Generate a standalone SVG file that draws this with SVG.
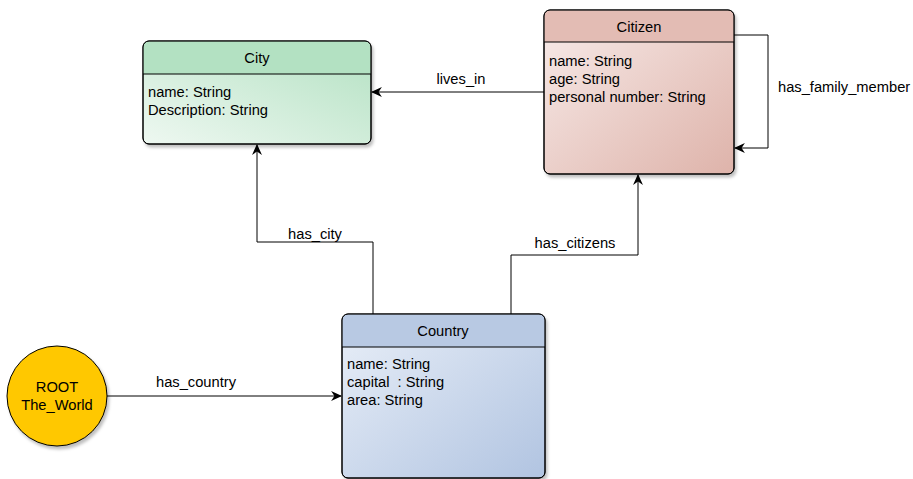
<svg xmlns="http://www.w3.org/2000/svg" width="913" height="479" viewBox="0 0 913 479">
  <style>
    text { font-family: "Liberation Sans", Arial, sans-serif; font-size: 14.7px; fill: #000; white-space: pre; }
    .title { text-anchor: middle; }
    .lbl { text-anchor: middle; }
    .box { stroke: #000; stroke-width: 1; }
    .sep { stroke: #000; stroke-width: 1; }
    .edge { fill: none; stroke: #000; stroke-width: 1; }
  </style>
  <defs>
    <marker id="arrow" viewBox="0 0 10 10" refX="9" refY="5" markerWidth="11" markerHeight="11" markerUnits="userSpaceOnUse" orient="auto">
      <path d="M0,0.5 L10,5 L0,9.5 L3,5 Z" fill="#000"/>
    </marker>
    <filter id="shadow" x="-10%" y="-10%" width="130%" height="130%">
      <feDropShadow dx="2" dy="3" stdDeviation="1.5" flood-color="#000" flood-opacity="0.25"/>
    </filter>
    <linearGradient id="gCity" x1="0" y1="1" x2="1" y2="0">
      <stop offset="0" stop-color="#eef8f1"/>
      <stop offset="1" stop-color="#b3e1c2"/>
    </linearGradient>
    <linearGradient id="gCitizen" x1="0" y1="0" x2="1" y2="1">
      <stop offset="0" stop-color="#f8ecea"/>
      <stop offset="1" stop-color="#deb3aa"/>
    </linearGradient>
    <linearGradient id="gCountry" x1="0" y1="0" x2="1" y2="1">
      <stop offset="0" stop-color="#e9eff8"/>
      <stop offset="1" stop-color="#b1c4e1"/>
    </linearGradient>
  </defs>

  <!-- connectors -->
  <g id="connectors">
    <path class="edge" d="M107,396 L341,396" marker-end="url(#arrow)"/>
    <text class="lbl" x="196" y="387">has_country</text>

    <path class="edge" d="M373,314 L373,242 L257,242 L257,145" marker-end="url(#arrow)"/>
    <text class="lbl" x="315" y="239">has_city</text>

    <path class="edge" d="M511,314 L511,255 L638,255 L638,175" marker-end="url(#arrow)"/>
    <text class="lbl" x="575" y="248">has_citizens</text>

    <path class="edge" d="M544,92 L372,92" marker-end="url(#arrow)"/>
    <text class="lbl" x="461" y="84">lives_in</text>

    <path class="edge" d="M734,35 L768,35 L768,148 L735,148" marker-end="url(#arrow)"/>
    <text x="778" y="92">has_family_member</text>
  </g>

  <!-- City -->
  <g id="city">
    <rect class="box" x="143" y="41" width="228" height="103" rx="6" fill="url(#gCity)" filter="url(#shadow)"/>
    <path d="M143.5,74 L143.5,47 Q143.5,41.5 149,41.5 L365,41.5 Q370.5,41.5 370.5,47 L370.5,74 Z" fill="#b3e1c2"/>
    <rect class="box" x="143" y="41" width="228" height="103" rx="6" fill="none"/>
    <line class="sep" x1="143" y1="74" x2="371" y2="74"/>
    <text class="title" x="257" y="63">City</text>
    <text x="148" y="97">name: String</text>
    <text x="148" y="115">Description: String</text>
  </g>

  <!-- Citizen -->
  <g id="citizen">
    <rect class="box" x="544" y="10" width="190" height="164" rx="6" fill="url(#gCitizen)" filter="url(#shadow)"/>
    <path d="M544.5,42 L544.5,16 Q544.5,10.5 550,10.5 L728,10.5 Q733.5,10.5 733.5,16 L733.5,42 Z" fill="#e3bcb4"/>
    <rect class="box" x="544" y="10" width="190" height="164" rx="6" fill="none"/>
    <line class="sep" x1="544" y1="42" x2="734" y2="42"/>
    <text class="title" x="639" y="32">Citizen</text>
    <text x="549" y="66">name: String</text>
    <text x="549" y="84">age: String</text>
    <text x="549" y="102">personal number: String</text>
  </g>

  <!-- Country -->
  <g id="country">
    <rect class="box" x="342" y="314" width="203" height="164" rx="6" fill="url(#gCountry)" filter="url(#shadow)"/>
    <path d="M342.5,347 L342.5,320 Q342.5,314.5 348,314.5 L539,314.5 Q544.5,314.5 544.5,320 L544.5,347 Z" fill="#b8c9e3"/>
    <rect class="box" x="342" y="314" width="203" height="164" rx="6" fill="none"/>
    <line class="sep" x1="342" y1="347" x2="545" y2="347"/>
    <text class="title" x="443" y="336">Country</text>
    <text x="347" y="369">name: String</text>
    <text x="347" y="387" xml:space="preserve">capital  : String</text>
    <text x="347" y="405">area: String</text>
  </g>

  <!-- Root node -->
  <g id="root">
    <circle cx="57" cy="396" r="50" fill="#ffc800" stroke="#000" stroke-width="1" filter="url(#shadow)"/>
    <text class="title" x="57" y="392">ROOT</text>
    <text class="title" x="57" y="410">The_World</text>
  </g>
</svg>
